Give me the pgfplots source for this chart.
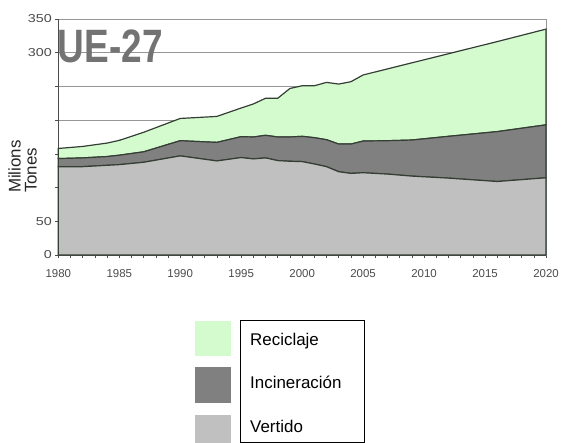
\documentclass[border=0pt]{standalone}
\usepackage{pgfplots}
\pgfplotsset{compat=1.18}
\usepackage{pgfplotstable}
\usepackage{fontspec}
\setmainfont{Liberation Sans}
\definecolor{recic}{RGB}{212,251,206}
\definecolor{incin}{RGB}{128,128,128}
\definecolor{vert}{RGB}{192,192,192}
\definecolor{edge}{RGB}{52,62,52}
\definecolor{gridc}{RGB}{150,150,150}
\definecolor{titlec}{RGB}{115,115,115}
\definecolor{tickc}{RGB}{75,75,75}

\pgfplotstableread{
year vert incin recic
1980 131   12   15
1982 131   13   17
1984 133   13   20
1985 134   14   22
1987 137.5 15.5 29
1990 147   22.5 33
1993 139.5 27.5 38.5
1995 144.5 31   42.5
1996 142.5 32.5 49
1997 144   33.5 55
1998 140   35   57.5
1999 139   36   72
2000 138.5 37.5 75
2001 135   39   77
2002 131   40   85
2003 123.5 41   89
2004 121   43.5 92.5
2005 122   47   98
2007 120   49.5 106.5
2009 117   53.5 114.5
2012 114   62   122.5
2016 109   74   133.5
2020 114.5 78.5 142
}\datatable

\newcommand{\yl}[1]{\scalebox{1.25}[1]{#1}}

\begin{document}
\begin{tikzpicture}
\useasboundingbox (-58.3bp,-188bp) rectangle (502.7bp,255bp);
\begin{axis}[
  at={(0,0)}, anchor=origin,
  scale only axis,
  width=487.7bp, height=236bp,
  xmin=1980, xmax=2020, ymin=0, ymax=350,
  stack plots=y,
  xtick={1980,1985,...,2020},
  minor x tick num=4,
  ytick={0,50,...,350},
  yticklabels={\yl{0},\yl{50},,,,,\yl{300},\yl{350}},
  xticklabel style={/pgf/number format/1000 sep={}, yshift=-8bp},
  /pgf/number format/assume math mode=true,
  tick label style={font=\fontsize{11.5}{12}\selectfont, text=tickc},
  xtick pos=bottom, ytick pos=left,
  tick align=outside,
  major tick length=3bp, minor tick length=3bp,
  every tick/.style={black!70, line width=0.6pt},
  ymajorgrids,
  grid style={gridc, line width=0.7pt},
  axis line style={gridc, line width=0.8pt},
  ylabel={Milions\\Tones},
  ylabel style={align=left, font=\fontsize{17}{16}\selectfont, text=black!85, at={(rel axis cs:0,0.265)}, anchor=south west, yshift=18bp, xshift=-4bp},
  clip=false,
]
\addplot[fill=vert, draw=edge, line width=1.2pt] table[x=year,y=vert] {\datatable} \closedcycle;
\addplot[fill=incin, draw=edge, line width=1.2pt] table[x=year,y=incin] {\datatable} \closedcycle;
\addplot[fill=recic, draw=edge, line width=1.2pt] table[x=year,y=recic] {\datatable} \closedcycle;
\draw[gridc, line width=0.8pt] (rel axis cs:1,0) -- (rel axis cs:1,1);
\draw[black!70, line width=0.9pt] (rel axis cs:0,0) -- (rel axis cs:0,1);
\draw[black!70, line width=0.9pt] (rel axis cs:0,0) -- (rel axis cs:1,0);
\node[anchor=base west, inner sep=0pt, text=titlec, font=\bfseries\fontsize{47}{47}\selectfont] at (axis cs:1979.95,286) {\scalebox{0.79}[1]{UE-27}};
\end{axis}
% legend
\fill[recic] (136.7bp,-65.7bp) rectangle (172.7bp,-100.7bp);
\fill[incin] (136.7bp,-112bp) rectangle (172.7bp,-147.7bp);
\fill[vert]  (136.7bp,-160bp) rectangle (172.7bp,-188bp);
\draw[black, line width=0.8pt] (181.7bp,-65.7bp) rectangle (305.7bp,-187.5bp);
\node[anchor=base west, inner sep=0pt, font=\fontsize{17}{17}\selectfont] at (191.7bp,-90bp) {Reciclaje};
\node[anchor=base west, inner sep=0pt, font=\fontsize{17}{17}\selectfont] at (191.7bp,-133bp) {Incineración};
\node[anchor=base west, inner sep=0pt, font=\fontsize{17}{17}\selectfont] at (191.7bp,-177bp) {Vertido};
\end{tikzpicture}
\end{document}
